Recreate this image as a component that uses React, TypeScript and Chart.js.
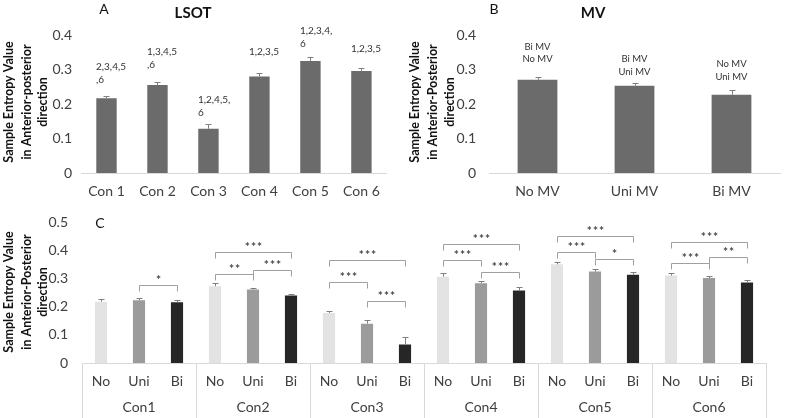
import React, { useEffect, useRef } from "react";
import { Chart, registerables } from "chart.js";

Chart.register(...registerables);

const FONT = "Lato, 'Open Sans', sans-serif";
const TICK_COLOR = "#404040";
const AXIS_COLOR = "#d9d9d9";

// ---------- Panel A : LSOT ----------
const lsotCategories = ["Con 1", "Con 2", "Con 3", "Con 4", "Con 5", "Con 6"];
const lsotValues = [0.217, 0.255, 0.128, 0.28, 0.325, 0.296];
const lsotErrors = [0.007, 0.008, 0.013, 0.011, 0.01, 0.008];
const lsotSigText = [
  ["2,3,4,5", ",6"],
  ["1,3,4,5", ",6"],
  ["1,2,4,5,", "6"],
  ["1,2,3,5"],
  ["1,2,3,4,", "6"],
  ["1,2,3,5"],
];
const lsotSigLevel = [0.308, 0.352, 0.212, 0.352, 0.412, 0.359];

// ---------- Panel B : MV ----------
const mvCategories = ["No MV", "Uni MV", "Bi MV"];
const mvValues = [0.27, 0.253, 0.227];
const mvErrors = [0.009, 0.007, 0.013];
const mvSigText = [
  ["Bi MV", "No MV"],
  ["Bi MV", "Uni MV"],
  ["No MV", "Uni MV"],
];
const mvSigLevel = [0.366, 0.33, 0.315];

// ---------- Panel C : condition x MV ----------
const conditions = ["Con1", "Con2", "Con3", "Con4", "Con5", "Con6"];
const mvShort = ["No", "Uni", "Bi"];
const noValues = [0.218, 0.273, 0.178, 0.307, 0.351, 0.311];
const uniValues = [0.223, 0.261, 0.14, 0.284, 0.325, 0.302];
const biValues = [0.216, 0.24, 0.066, 0.258, 0.314, 0.286];
const noErrors = [0.008, 0.01, 0.008, 0.012, 0.009, 0.008];
const uniErrors = [0.008, 0.007, 0.013, 0.009, 0.008, 0.007];
const biErrors = [0.007, 0.007, 0.027, 0.011, 0.008, 0.01];
const mvColors = ["#e3e3e3", "#9b9b9b", "#262626"];
// [condition index, from bar (0 No,1 Uni,2 Bi), to bar, bracket level, stars]
const sigBrackets: [number, number, number, number, string][] = [
  [0, 1, 2, 0.276, "*"],
  [1, 0, 1, 0.317, "**"],
  [1, 1, 2, 0.331, "***"],
  [1, 0, 2, 0.393, "***"],
  [2, 0, 1, 0.288, "***"],
  [2, 1, 2, 0.22, "***"],
  [2, 0, 2, 0.368, "***"],
  [3, 0, 1, 0.368, "***"],
  [3, 1, 2, 0.325, "***"],
  [3, 0, 2, 0.424, "***"],
  [4, 0, 1, 0.393, "***"],
  [4, 1, 2, 0.37, "*"],
  [4, 0, 2, 0.453, "***"],
  [5, 0, 1, 0.354, "***"],
  [5, 1, 2, 0.377, "**"],
  [5, 0, 2, 0.43, "***"],
];

const yTitleA = ["Sample Entropy Value", "in Anterior-posterior", "direction"];
const yTitleB = ["Sample Entropy Value", "in Anterior-Posterior", "direction"];

function drawYTitle(ctx: CanvasRenderingContext2D, lines: string[], xs: number[], cy: number) {
  ctx.save();
  ctx.font = `bold 12.5px ${FONT}`;
  ctx.fillStyle = "#111";
  ctx.textAlign = "center";
  ctx.textBaseline = "middle";
  lines.forEach((t, i) => {
    ctx.save();
    ctx.translate(xs[i], cy);
    ctx.rotate(-Math.PI / 2);
    ctx.fillText(t, 0, 0);
    ctx.restore();
  });
  ctx.restore();
}

function drawErrorBars(chart: any, values: number[], errors: number[], cap: number) {
  const ctx = chart.ctx;
  const y = chart.scales.y;
  const meta = chart.getDatasetMeta(0);
  ctx.save();
  ctx.strokeStyle = "#7f7f7f";
  ctx.lineWidth = 1;
  meta.data.forEach((bar: any, i: number) => {
    const x = Math.round(bar.x) + 0.5;
    const y0 = y.getPixelForValue(values[i]);
    const y1 = Math.round(y.getPixelForValue(values[i] + errors[i])) + 0.5;
    ctx.beginPath();
    ctx.moveTo(x, y0);
    ctx.lineTo(x, y1);
    ctx.moveTo(x - cap, y1);
    ctx.lineTo(x + cap, y1);
    ctx.stroke();
  });
  ctx.restore();
}

function drawText(ctx: CanvasRenderingContext2D, text: string, x: number, y: number, font: string, align: CanvasTextAlign = "center", color = "#111", spacing = "0px") {
  ctx.save();
  ctx.font = font;
  ctx.fillStyle = color;
  ctx.textAlign = align;
  ctx.textBaseline = "middle";
  (ctx as any).letterSpacing = spacing;
  ctx.fillText(text, x, y);
  ctx.restore();
}

const yTickCallback = (v: any) => (Number(v) === 0 ? "0" : Number(v).toFixed(1));

export default function App() {
  const refA = useRef<HTMLCanvasElement>(null);
  const refB = useRef<HTMLCanvasElement>(null);
  const refC = useRef<HTMLCanvasElement>(null);

  useEffect(() => {
    const charts: Chart[] = [];

    // Panel A
    charts.push(
      new Chart(refA.current!, {
        type: "bar",
        data: {
          labels: lsotCategories,
          datasets: [{ data: lsotValues, backgroundColor: "#6b6b6b", barPercentage: 0.4, categoryPercentage: 1 }],
        },
        options: {
          responsive: false,
          animation: false,
          layout: { padding: { top: 35, right: 3, left: 0, bottom: 0 } },
          plugins: { legend: { display: false }, tooltip: { enabled: false } },
          scales: {
            x: {
              grid: { display: false, drawTicks: false },
              border: { display: true, color: AXIS_COLOR },
              ticks: { font: { family: FONT, size: 14 }, color: TICK_COLOR, padding: 10 },
              afterFit: (s: any) => { s.height = 27; },
            },
            y: {
              min: 0, max: 0.4,
              grid: { display: false, drawTicks: false },
              border: { display: false },
              ticks: { stepSize: 0.1, font: { family: FONT, size: 14 }, color: TICK_COLOR, padding: 9, callback: yTickCallback },
              afterFit: (s: any) => { s.width = 81; },
            },
          },
        },
        plugins: [
          {
            id: "annotA",
            afterDatasetsDraw(chart: any) {
              const ctx = chart.ctx;
              drawErrorBars(chart, lsotValues, lsotErrors, 3);
              const y = chart.scales.y;
              const meta = chart.getDatasetMeta(0);
              meta.data.forEach((bar: any, i: number) => {
                const top = y.getPixelForValue(lsotSigLevel[i]);
                lsotSigText[i].forEach((t, k) => {
                  drawText(ctx, t, bar.x - 10.5, top + k * 13, `10px ${FONT}`, "left", "#333");
                });
              });
              drawText(ctx, "A", 104, 9, `14px ${FONT}`);
              drawText(ctx, "LSOT", 193, 13, `bold 15px ${FONT}`);
              drawYTitle(ctx, yTitleA, [9, 27, 43], 102);
            },
          },
        ],
      } as any)
    );

    // Panel B
    charts.push(
      new Chart(refB.current!, {
        type: "bar",
        data: {
          labels: mvCategories,
          datasets: [{ data: mvValues, backgroundColor: "#6b6b6b", barPercentage: 0.41, categoryPercentage: 1 }],
        },
        options: {
          responsive: false,
          animation: false,
          layout: { padding: { top: 35, right: 7, left: 0, bottom: 0 } },
          plugins: { legend: { display: false }, tooltip: { enabled: false } },
          scales: {
            x: {
              grid: { display: false, drawTicks: false },
              border: { display: true, color: AXIS_COLOR },
              ticks: { font: { family: FONT, size: 14 }, color: TICK_COLOR, padding: 10 },
              afterFit: (s: any) => { s.height = 27; },
            },
            y: {
              min: 0, max: 0.4,
              grid: { display: false, drawTicks: false },
              border: { display: false },
              ticks: { stepSize: 0.1, font: { family: FONT, size: 14 }, color: TICK_COLOR, padding: 13, callback: yTickCallback },
              afterFit: (s: any) => { s.width = 99; },
            },
          },
        },
        plugins: [
          {
            id: "annotB",
            afterDatasetsDraw(chart: any) {
              const ctx = chart.ctx;
              drawErrorBars(chart, mvValues, mvErrors, 3);
              const y = chart.scales.y;
              const meta = chart.getDatasetMeta(0);
              meta.data.forEach((bar: any, i: number) => {
                const top = y.getPixelForValue(mvSigLevel[i]);
                mvSigText[i].forEach((t, k) => {
                  drawText(ctx, t, bar.x, top + k * 12.5, `9.5px ${FONT}`, "center", "#333");
                });
              });
              drawText(ctx, "B", 104, 9, `14px ${FONT}`);
              drawText(ctx, "MV", 203, 13, `bold 15px ${FONT}`);
              drawYTitle(ctx, yTitleB, [25, 43, 60], 102);
            },
          },
        ],
      } as any)
    );

    // Panel C
    const cLabels = conditions.flatMap(() => mvShort);
    const cValues = conditions.flatMap((_, g) => [noValues[g], uniValues[g], biValues[g]]);
    const cErrors = conditions.flatMap((_, g) => [noErrors[g], uniErrors[g], biErrors[g]]);
    const cColors = conditions.flatMap(() => mvColors);
    charts.push(
      new Chart(refC.current!, {
        type: "bar",
        data: {
          labels: cLabels,
          datasets: [{ data: cValues, backgroundColor: cColors, barPercentage: 0.32, categoryPercentage: 1 }],
        },
        options: {
          responsive: false,
          animation: false,
          layout: { padding: { top: 20, right: 21, left: 0, bottom: 0 } },
          plugins: { legend: { display: false }, tooltip: { enabled: false } },
          scales: {
            x: {
              grid: { display: false, drawTicks: false },
              border: { display: true, color: AXIS_COLOR },
              ticks: { font: { family: FONT, size: 14 }, color: TICK_COLOR, padding: 10, autoSkip: false, maxRotation: 0 },
              afterFit: (s: any) => { s.height = 55; },
            },
            y: {
              min: 0, max: 0.5,
              grid: { display: false, drawTicks: false },
              border: { display: false },
              ticks: { stepSize: 0.1, font: { family: FONT, size: 14 }, color: TICK_COLOR, padding: 14, callback: yTickCallback },
              afterFit: (s: any) => { s.width = 82; },
            },
          },
        },
        plugins: [
          {
            id: "annotC",
            afterDatasetsDraw(chart: any) {
              const ctx = chart.ctx;
              const x = chart.scales.x;
              const y = chart.scales.y;
              const area = chart.chartArea;
              drawErrorBars(chart, cValues, cErrors, 3);
              const slot = x.getPixelForValue(1) - x.getPixelForValue(0);
              // group separators and labels
              ctx.save();
              ctx.strokeStyle = AXIS_COLOR;
              ctx.lineWidth = 1;
              for (let g = 0; g <= conditions.length; g++) {
                const px = Math.round(x.getPixelForValue(g * 3) - slot / 2) + 0.5;
                ctx.beginPath();
                ctx.moveTo(px, area.bottom);
                ctx.lineTo(px, chart.height);
                ctx.stroke();
              }
              ctx.restore();
              conditions.forEach((c, g) => {
                const cx = (x.getPixelForValue(g * 3) + x.getPixelForValue(g * 3 + 2)) / 2;
                drawText(ctx, c, cx, 207, `14px ${FONT}`, "center", TICK_COLOR);
              });
              // significance brackets
              ctx.save();
              ctx.strokeStyle = "#a0a0a0";
              ctx.lineWidth = 1;
              sigBrackets.forEach(([g, a, b, lvl, stars]) => {
                const x1 = Math.round(x.getPixelForValue(g * 3 + a)) + 0.5;
                const x2 = Math.round(x.getPixelForValue(g * 3 + b)) + 0.5;
                const yy = Math.round(y.getPixelForValue(lvl)) + 0.5;
                ctx.beginPath();
                ctx.moveTo(x1, yy + 6);
                ctx.lineTo(x1, yy);
                ctx.lineTo(x2, yy);
                ctx.lineTo(x2, yy + 6);
                ctx.stroke();
                drawText(ctx, stars, (x1 + x2) / 2 + 0.5, yy - 5, `bold 12px ${FONT}`, "center", "#444", "1px");
              });
              ctx.restore();
              drawText(ctx, "C", 100, 23, `14px ${FONT}`);
              drawYTitle(ctx, yTitleB, [9, 27, 43], 92);
            },
          },
        ],
      } as any)
    );

    return () => charts.forEach((c) => c.destroy());
  }, []);

  return (
    <div style={{ position: "fixed", left: 0, top: 0, width: 787, height: 418, background: "#fff" }}>
      <canvas ref={refA} width={390} height={200} style={{ position: "absolute", left: 0, top: 0, width: 390, height: 200 }} />
      <canvas ref={refB} width={397} height={200} style={{ position: "absolute", left: 390, top: 0, width: 397, height: 200 }} />
      <canvas ref={refC} width={787} height={218} style={{ position: "absolute", left: 0, top: 200, width: 787, height: 218 }} />
    </div>
  );
}
